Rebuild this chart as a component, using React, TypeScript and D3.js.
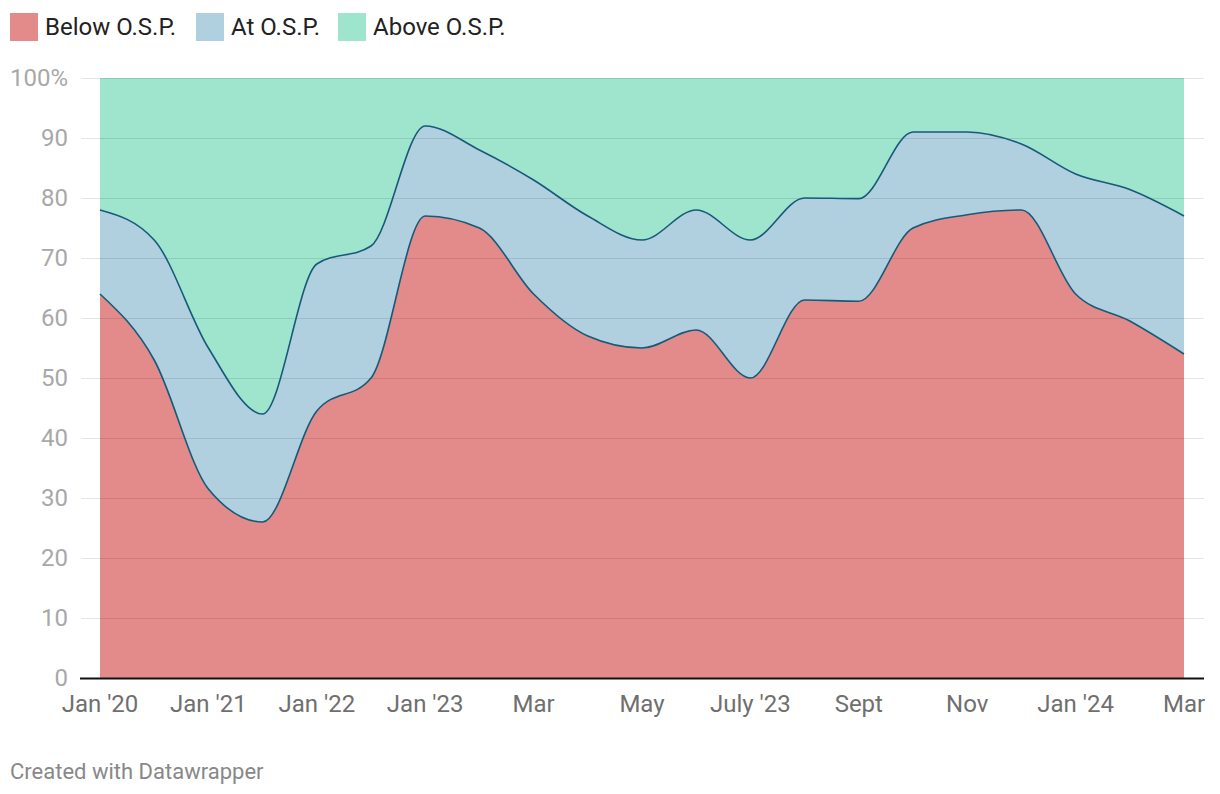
import React, { useEffect, useRef } from 'react';
import * as d3 from 'd3';

// months (only every other one is labelled on the axis)
const months = [
  "Jan '20", "Jul '20", "Jan '21", "Jul '21", "Jan '22", "Jul '22", "Jan '23",
  'Feb', 'Mar', 'Apr', 'May', 'June', "July '23", 'Aug', 'Sept', 'Oct', 'Nov',
  'Dec', "Jan '24", "Feb '24", 'Mar '
];
const tickLabels = [
  "Jan '20", "Jan '21", "Jan '22", "Jan '23", 'Mar', 'May', "July '23",
  'Sept', 'Nov', "Jan '24", 'Mar'
];

const belowOSP = [64, 53, 31.5, 26, 44.5, 50, 77, 75, 64, 57, 55, 58, 50, 63, 62.8, 75, 77.2, 78, 64, 59.5, 54];
const atOSP = [14, 20, 23.5, 18, 24.5, 22, 15, 13, 19, 20, 18, 20, 23, 17, 17.1, 16, 13.8, 11, 20, 21.9, 23];
const aboveOSP = belowOSP.map((b, i) => 100 - b - atOSP[i]);

const seriesNames = ['Below O.S.P.', 'At O.S.P.', 'Above O.S.P.'];
const colors = ['#e28b8a', '#b0cfdf', '#9fe4cc'];
const yTicks = [0, 10, 20, 30, 40, 50, 60, 70, 80, 90, 100];

const App = () => {
  const ref = useRef<SVGSVGElement>(null);

  useEffect(() => {
    const svg = d3.select(ref.current);
    svg.selectAll('*').remove();

    const rows = months.map((m, i) => ({
      month: m,
      [seriesNames[0]]: belowOSP[i],
      [seriesNames[1]]: atOSP[i],
      [seriesNames[2]]: aboveOSP[i],
    }));

    const x = d3.scalePoint<string>().domain(months).range([100, 1184]);
    const y = d3.scaleLinear().domain([0, 100]).range([678, 78]);

    const stacked = d3.stack<any>().keys(seriesNames)(rows);

    const area = d3.area<any>()
      .x(d => x(d.data.month)!)
      .y0(d => y(d[0]))
      .y1(d => y(d[1]))
      .curve(d3.curveMonotoneX);

    const line = d3.line<any>()
      .x(d => x(d.data.month)!)
      .y(d => y(d[1]))
      .curve(d3.curveMonotoneX);

    const font = 'Roboto, sans-serif';

    // areas
    svg.append('g')
      .selectAll('path')
      .data(stacked)
      .enter()
      .append('path')
      .attr('d', area)
      .attr('fill', (d, i) => colors[i]);

    // gridlines on top
    svg.append('g')
      .selectAll('line')
      .data(yTicks.filter(t => t > 0))
      .enter()
      .append('line')
      .attr('x1', 81)
      .attr('x2', 1204)
      .attr('y1', d => y(d) + 0.5)
      .attr('y2', d => y(d) + 0.5)
      .attr('stroke', '#000')
      .attr('stroke-opacity', 0.1)
      .attr('stroke-width', 1);

    // boundary lines
    svg.append('g')
      .selectAll('path')
      .data(stacked.slice(0, 2))
      .enter()
      .append('path')
      .attr('d', line)
      .attr('fill', 'none')
      .attr('stroke', '#155a78')
      .attr('stroke-width', 1.6);

    // baseline
    svg.append('line')
      .attr('x1', 80)
      .attr('x2', 1204)
      .attr('y1', y(0) + 0.5)
      .attr('y2', y(0) + 0.5)
      .attr('stroke', '#111')
      .attr('stroke-width', 2);

    // y labels
    svg.append('g')
      .selectAll('text')
      .data(yTicks)
      .enter()
      .append('text')
      .attr('x', 68)
      .attr('y', d => y(d))
      .attr('dy', '0.35em')
      .attr('text-anchor', 'end')
      .style('font-family', font)
      .style('font-size', '24px')
      .attr('fill', '#a8a8a8')
      .text(d => (d === 100 ? '100%' : String(d)));

    // x labels (every other month)
    svg.append('g')
      .selectAll('text')
      .data(tickLabels)
      .enter()
      .append('text')
      .attr('x', (d, i) => x(months[i * 2])!)
      .attr('y', 712)
      .attr('text-anchor', 'middle')
      .style('font-family', font)
      .style('font-size', '24px')
      .attr('fill', '#6f6f6f')
      .text(d => d);

    // legend
    const legendX = [10, 196, 338];
    const legend = svg.append('g');
    seriesNames.forEach((name, i) => {
      legend.append('rect')
        .attr('x', legendX[i])
        .attr('y', 13)
        .attr('width', 28)
        .attr('height', 28)
        .attr('fill', colors[i]);
      legend.append('text')
        .attr('x', legendX[i] + 35)
        .attr('y', 35)
        .style('font-family', font)
        .style('font-size', '24px')
        .attr('fill', '#222')
        .text(name);
    });

    // footer
    svg.append('text')
      .attr('x', 10)
      .attr('y', 779)
      .style('font-family', font)
      .style('font-size', '22px')
      .attr('fill', '#888')
      .text('Created with Datawrapper');
  }, []);

  return (
    <svg
      ref={ref}
      width={1220}
      height={794}
      style={{ position: 'absolute', left: 0, top: 0, background: '#fff' }}
    />
  );
};

export default App;
